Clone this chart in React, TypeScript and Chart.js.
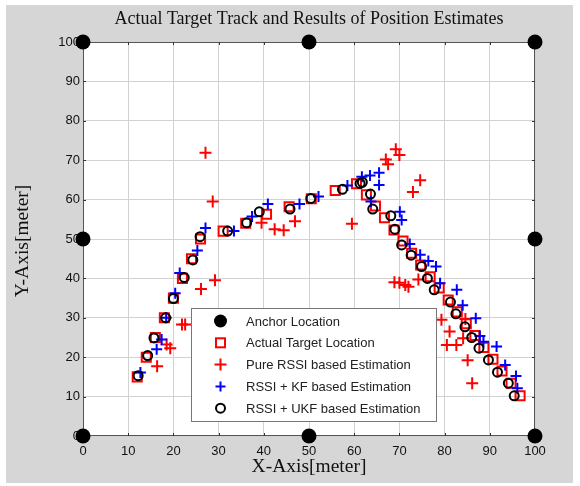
import { useEffect, useRef } from 'react';
import { Chart, registerables } from 'chart.js';
Chart.register(...registerables);

const titleText = 'Actual Target Track and Results of Position Estimates';
const xTitle = 'X-Axis[meter]';
const yTitle = 'Y-Axis[meter]';
const tickValues = [0, 10, 20, 30, 40, 50, 60, 70, 80, 90, 100];
const legendLabels = [
  'Anchor Location',
  'Actual Target Location',
  'Pure RSSI based Estimation',
  'RSSI + KF based Estimation',
  'RSSI + UKF based Estimation',
];

const anchorX = [0, 50, 100, 0, 100, 0, 50, 100];
const anchorY = [0, 0, 0, 50, 50, 100, 100, 100];

const actualX = [12, 14, 16, 18, 20, 22, 24, 26, 31, 36, 40.6, 45.6, 50.5, 55.8, 60.5, 62.7, 64.7, 66.7, 68.8, 70.8, 72.7, 74.7, 76.8, 78.8, 80.8, 82.8, 84.8, 86.7, 88.7, 90.7, 92.7, 94.7, 96.7];
const actualY = [15, 20, 25, 30, 35, 40, 45, 50, 52, 54, 56.3, 58.2, 60.2, 62.3, 64, 61.2, 58.4, 55.4, 52.3, 49.5, 46.4, 43.4, 40.4, 37.6, 34.5, 31.5, 28.5, 25.5, 22.5, 19.5, 16.5, 13.4, 10.2];

const rssiX = [16.4, 18.5, 19.3, 21.9, 22.6, 26.1, 29.2, 27.1, 28.7, 39.5, 42.4, 44.4, 46.9, 59.5, 67, 67.5, 69.2, 70, 73, 74.6, 68.9, 70, 71.3, 72, 74.2, 79.3, 81.1, 80.5, 82.6, 84.1, 84.6, 85.1, 86.1];
const rssiY = [17.7, 23.2, 22.3, 28.3, 28.3, 37.3, 39.5, 71.9, 59.5, 54.1, 52.5, 52.2, 54.5, 53.9, 70.2, 69, 72.8, 71.3, 61.9, 64.9, 39, 38.9, 38.3, 37.9, 39.7, 29.5, 26.5, 23.1, 23.1, 24.8, 29.7, 19.2, 13.4];

const kfX = [12.7, 16.3, 17.4, 18.4, 20.4, 21.4, 25.3, 27.1, 33.4, 37.4, 40.9, 47.9, 52.1, 58.5, 61.7, 63.5, 65.5, 65.5, 63.7, 70.1, 70.5, 72.3, 74.6, 76.4, 78.1, 79, 82.7, 84, 86.9, 87.8, 88.6, 91.5, 93.4, 95.8, 96.1];
const kfY = [16.1, 22, 24.5, 30, 36.2, 41.4, 47.1, 52.8, 52, 55.7, 58.9, 58.9, 60.8, 63.6, 65.8, 66.1, 66.8, 63.7, 59.5, 56.9, 54.8, 48.7, 46, 44.4, 43, 38.8, 37.1, 33.2, 29.9, 25.4, 23.9, 22.7, 18, 15.2, 12.1];

const ukfX = [12.2, 14.3, 15.7, 18.3, 20, 22.4, 24.3, 25.9, 32, 36.2, 39, 45.8, 50.4, 57.4, 61.3, 61.8, 63.6, 64.1, 68.1, 69, 70.5, 72.6, 74.9, 76.2, 77.7, 81.3, 82.5, 84.5, 86, 87.6, 89.7, 91.7, 94.1, 95.4];
const ukfY = [15.3, 20.4, 24.9, 30, 34.9, 40.2, 44.7, 50.6, 52, 54.1, 56.9, 57.6, 60.3, 62.6, 64.1, 64.4, 61.4, 57.6, 55.9, 52.5, 48.5, 45.9, 43, 40, 37.1, 34, 31, 27.7, 25, 22.3, 19.3, 16.2, 13.4, 10.2];

const zip = (xs: number[], ys: number[]) => xs.map((x, i) => ({ x, y: ys[i] }));

const SANS = '"Liberation Sans", Arial, sans-serif';
const SERIF = '"Liberation Serif", "Times New Roman", serif';

function drawMarker(ctx: CanvasRenderingContext2D, kind: number, x: number, y: number) {
  ctx.save();
  ctx.lineWidth = 2;
  if (kind === 0) {
    ctx.fillStyle = '#000';
    ctx.beginPath();
    ctx.arc(x, y, 6.5, 0, Math.PI * 2);
    ctx.fill();
  } else if (kind === 1) {
    ctx.strokeStyle = '#ff0000';
    ctx.strokeRect(x - 4.5, y - 4.5, 9, 9);
  } else if (kind === 2 || kind === 3) {
    ctx.strokeStyle = kind === 2 ? '#ff0000' : '#0000ff';
    const r = kind === 2 ? 6 : 5;
    ctx.beginPath();
    ctx.moveTo(x - r, y);
    ctx.lineTo(x + r, y);
    ctx.moveTo(x, y - r);
    ctx.lineTo(x, y + r);
    ctx.stroke();
  } else {
    ctx.strokeStyle = '#000';
    ctx.beginPath();
    ctx.arc(x, y, 4.5, 0, Math.PI * 2);
    ctx.stroke();
  }
  ctx.restore();
}

const decorPlugin = {
  id: 'decor',
  beforeDraw(chart: any) {
    const { ctx, chartArea: a } = chart;
    ctx.save();
    ctx.fillStyle = '#ffffff';
    ctx.fillRect(0, 0, 580, 486);
    ctx.fillStyle = '#d6d6d6';
    ctx.fillRect(6, 5, 567, 478);
    ctx.fillStyle = '#ffffff';
    ctx.fillRect(a.left, a.top, a.right - a.left, a.bottom - a.top);
    ctx.restore();
  },
  beforeDatasetsDraw(chart: any) {
    const { ctx, chartArea: a, scales } = chart;
    ctx.save();
    ctx.strokeStyle = '#555';
    ctx.lineWidth = 1;
    ctx.strokeRect(a.left + 0.5, a.top + 0.5, a.right - a.left - 1, a.bottom - a.top - 1);
    ctx.strokeStyle = '#333';
    ctx.beginPath();
    tickValues.forEach((v) => {
      const px = Math.round(scales.x.getPixelForValue(v)) + 0.5;
      ctx.moveTo(px, a.bottom);
      ctx.lineTo(px, a.bottom - 3);
      ctx.moveTo(px, a.top);
      ctx.lineTo(px, a.top + 3);
      const py = Math.round(scales.y.getPixelForValue(v)) + 0.5;
      ctx.moveTo(a.left, py);
      ctx.lineTo(a.left + 3, py);
      ctx.moveTo(a.right, py);
      ctx.lineTo(a.right - 3, py);
    });
    ctx.stroke();
    ctx.restore();
  },
  afterDatasetsDraw(chart: any) {
    const { ctx, chartArea: a } = chart;
    ctx.save();
    // title
    ctx.fillStyle = '#111';
    ctx.font = `18px ${SERIF}`;
    ctx.textAlign = 'center';
    ctx.textBaseline = 'middle';
    ctx.fillText(titleText, (a.left + a.right) / 2, 19);
    // axis titles
    ctx.font = `19.5px ${SERIF}`;
    ctx.fillText(xTitle, (a.left + a.right) / 2, 467);
    ctx.save();
    ctx.translate(23, (a.top + a.bottom) / 2 + 2);
    ctx.rotate(-Math.PI / 2);
    ctx.fillText(yTitle, 0, 0);
    ctx.restore();
    // legend
    const lx = 191.5, ly = 308.5, lw = 245, lh = 113;
    ctx.fillStyle = '#ffffff';
    ctx.fillRect(lx, ly, lw, lh);
    ctx.strokeStyle = '#777';
    ctx.lineWidth = 1;
    ctx.strokeRect(lx, ly, lw, lh);
    ctx.font = `13px ${SANS}`;
    ctx.textAlign = 'left';
    ctx.textBaseline = 'middle';
    legendLabels.forEach((lab, i) => {
      const y = 321 + i * 21.8;
      drawMarker(ctx, i, 220.5, y);
      ctx.fillStyle = '#222';
      ctx.fillText(lab, 246, y + 1);
    });
    ctx.restore();
  },
};

export default function App() {
  const ref = useRef<HTMLCanvasElement | null>(null);
  useEffect(() => {
    document.body.style.margin = '0';
    const canvas = ref.current!;
    const chart = new Chart(canvas, {
      type: 'scatter',
      data: {
        datasets: [
          {
            label: legendLabels[0],
            data: zip(anchorX, anchorY),
            pointStyle: 'circle',
            pointRadius: 7.5,
            backgroundColor: '#000',
            borderColor: '#000',
            borderWidth: 0,
            clip: false,
            order: 5,
          },
          {
            label: legendLabels[1],
            data: zip(actualX, actualY),
            pointStyle: 'rect',
            pointRadius: 6.4,
            backgroundColor: 'rgba(0,0,0,0)',
            borderColor: '#ff0000',
            borderWidth: 2,
            clip: false,
            order: 4,
          },
          {
            label: legendLabels[2],
            data: zip(rssiX, rssiY),
            pointStyle: 'cross',
            pointRadius: 6,
            backgroundColor: '#ff0000',
            borderColor: '#ff0000',
            borderWidth: 2,
            clip: false,
            order: 3,
          },
          {
            label: legendLabels[3],
            data: zip(kfX, kfY),
            pointStyle: 'cross',
            pointRadius: 5.5,
            backgroundColor: '#0000ff',
            borderColor: '#0000ff',
            borderWidth: 2,
            clip: false,
            order: 2,
          },
          {
            label: legendLabels[4],
            data: zip(ukfX, ukfY),
            pointStyle: 'circle',
            pointRadius: 4.5,
            backgroundColor: 'rgba(0,0,0,0)',
            borderColor: '#000',
            borderWidth: 2,
            clip: false,
            order: 1,
          },
        ],
      },
      options: {
        responsive: false,
        devicePixelRatio: 1,
        animation: false,
        layout: { padding: { left: 0, top: 42, right: 45, bottom: 0 } },
        plugins: {
          legend: { display: false },
          title: { display: false },
          tooltip: { enabled: false },
        },
        scales: {
          x: {
            type: 'linear',
            min: 0,
            max: 100,
            afterFit: (s: any) => { s.height = 50; },
            afterBuildTicks: (s: any) => { s.ticks = tickValues.map((v) => ({ value: v })); },
            border: { display: false },
            grid: { color: '#d2d2d2', drawTicks: false, lineWidth: 1 },
            ticks: { color: '#111', padding: 8, font: { family: SANS, size: 13 }, maxRotation: 0 },
          },
          y: {
            type: 'linear',
            min: 0,
            max: 100,
            afterFit: (s: any) => { s.width = 83; },
            afterBuildTicks: (s: any) => { s.ticks = tickValues.map((v) => ({ value: v })); },
            border: { display: false },
            grid: { color: '#d2d2d2', drawTicks: false, lineWidth: 1 },
            ticks: { color: '#111', padding: 3, font: { family: SANS, size: 13 } },
          },
        },
      },
      plugins: [decorPlugin],
    } as any);
    return () => chart.destroy();
  }, []);
  return <canvas ref={ref} width={580} height={486} style={{ display: 'block', width: 580, height: 486 }} />;
}
